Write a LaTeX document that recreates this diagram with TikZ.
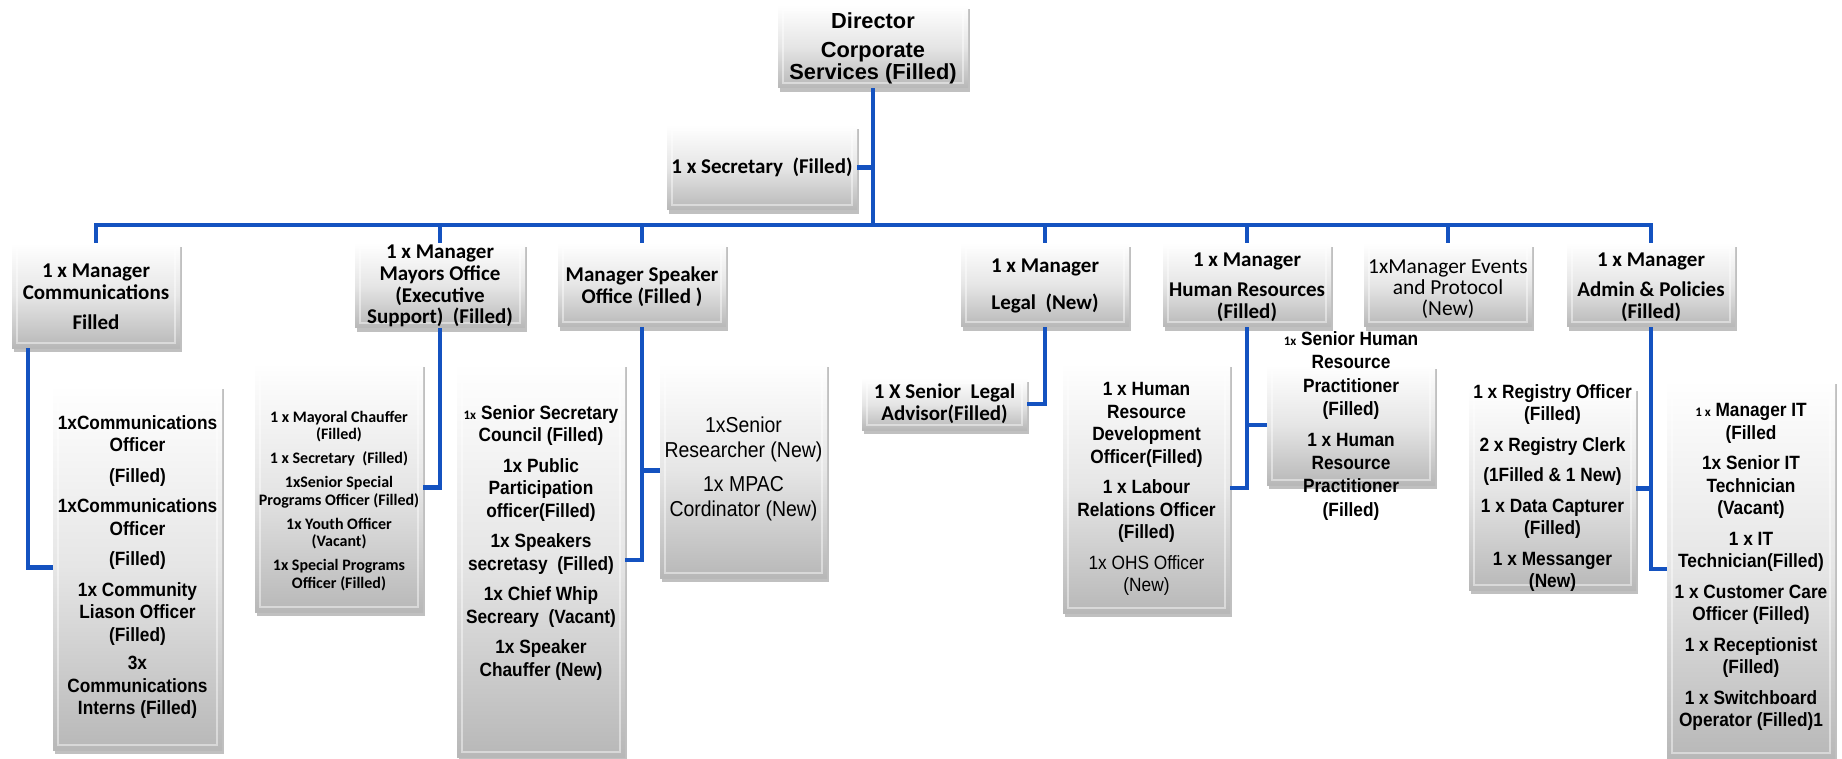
\documentclass[tikz,border=0pt]{standalone}
\usepackage{fontspec}
\setmainfont{Liberation Sans}
\newfontfamily\an[FakeStretch=0.9]{Liberation Sans}
\newfontfamily\carl{Carlito}
\usetikzlibrary{shadows}
\newcommand\setfs[2]{\fontsize{#1}{#2}\selectfont}
\definecolor{linkblue}{RGB}{20,82,192}
\begin{document}
\begin{tikzpicture}[x=0.5pt,y=-0.5pt,
  bx/.style 2 args={minimum width=#1*0.5pt, minimum height=#2*0.5pt, inner sep=0pt, draw=none,
    top color=white, bottom color=black!28, middle color=black!10,
    drop shadow={shadow xshift=0.8pt, shadow yshift=-2pt, opacity=0.35, fill=black!70},
    path picture={\draw[white, line width=1pt, opacity=0.45]
      ([shift={(2.5pt,-2.5pt)}]path picture bounding box.north west) rectangle
      ([shift={(-2.5pt,2.5pt)}]path picture bounding box.south east);}},
  conn/.style={draw=linkblue, line width=2.3pt},
  tx/.style={align=center, inner sep=0pt},
  cb/.style={tx, font=\setfs{10.5}{11.1}\carl\bfseries},
  cr/.style={tx, font=\setfs{10.7}{10.6}\carl},
  ab/.style={tx, font=\setfs{9.6}{11.25}\an\bfseries},
]
\path[fill=white, use as bounding box] (0,0) rectangle (1842,759);

% boxes
\node[bx={190}{83}]  (dir)    at (873,46.5) {};
\node[bx={190}{85}]  (sec)    at (762,167.5) {};
\node[bx={168}{105}] (comm)   at (96,295.5) {};
\node[bx={170}{85}]  (mayor)  at (440,285.5) {};
\node[bx={168}{84}]  (spk)    at (642,285) {};
\node[bx={168}{84}]  (legal)  at (1045,285) {};
\node[bx={168}{84}]  (hr)     at (1247,285) {};
\node[bx={168}{84}]  (events) at (1448,285) {};
\node[bx={168}{84}]  (admin)  at (1651,285) {};
\node[bx={169}{365}] (commc)  at (137.5,567.5) {};
\node[bx={168}{249}] (mayorc) at (339,487.5) {};
\node[bx={168}{394}] (spkc)   at (541,560) {};
\node[bx={167}{215}] (res)    at (743.5,470.5) {};
\node[bx={165}{52}]  (legc)   at (944.5,404) {};
\node[bx={167}{250}] (hrc)    at (1146.5,488) {};
\node[bx={168}{120}] (shr)    at (1351,425) {};
\node[bx={167}{203}] (reg)    at (1552.5,488.5) {};
\node[bx={168}{378}] (it)     at (1751,569) {};

% connectors
\coordinate (busY) at (0,225);
\coordinate (commJ) at (28,0);
\draw[conn] (comm.north) -- (comm.north |- busY) -| (admin.north);
\foreach \n in {mayor,spk,legal,hr,events}
  \draw[conn] (\n.north) -- (\n.north |- busY);
\draw[conn] (dir.south) -- (dir.south |- busY);
\draw[conn] (sec.east) -- (sec.east -| dir.south);
\draw[conn] (commJ |- comm.south) |- (commc.west);
\draw[conn] (mayor.south) |- (mayorc.east);
\draw[conn] (spk.south) |- (spkc.east);
\draw[conn] (spk.south |- res.west) -- (res.west);
\draw[conn] (legal.south) |- (legc.east);
\draw[conn] (hr.south) |- (hrc.east);
\draw[conn] (hr.south |- shr.west) -- (shr.west);
\draw[conn] (admin.south) |- (reg.east);
\draw[conn] (admin.south) |- (it.west);

% texts
\node[tx, font=\setfs{10.9}{11}\bfseries] (dirT) at (873,48) {Director\\[3.5pt]Corporate\\Services (Filled)};
\node[cb] (secT) at (762,167) {1 x Secretary\ \ (Filled)};
\node[cb] (commT) at (96,297) {1 x Manager\\Communications\\[4pt]Filled};
\node[tx, font=\setfs{10.5}{10.85}\carl\bfseries] (mayorT) at (440,286) {1 x Manager\\Mayors Office\\(Executive\\Support)\ \ (Filled)};
\node[cb] (spkT) at (642,287) {Manager Speaker\\Office (Filled )};
\node[cb] (legalT) at (1045,286) {1 x Manager\\[7pt]Legal\ \ (New)};
\node[cb] (hrT) at (1247,287) {1 x Manager\\[4pt]Human Resources\\(Filled)};
\node[cr] (eventsT) at (1448,289) {1xManager Events\\and Protocol\\(New)};
\node[cb] (adminT) at (1651,287) {1 x Manager\\[4pt]Admin \& Policies\\(Filled)};

\node[ab] (commcT) at (137.5,567) {1xCommunications\\Officer\\[4pt](Filled)\\[4pt]1xCommunications\\Officer\\[4pt](Filled)\\[4pt]1x Community\\Liason Officer\\(Filled)\\[3pt]3x\\Communications\\Interns (Filled)};
\node[tx, font=\setfs{8}{8.75}\carl\bfseries] (mayorcT) at (339,501) {1 x Mayoral Chauffer\\(Filled)\\[3.25pt]1 x Secretary\ \ (Filled)\\[3.25pt]1xSenior Special\\Programs Officer (Filled)\\[3.25pt]1x Youth Officer\\(Vacant)\\[3.25pt]1x Special Programs\\Officer (Filled)};
\node[ab] (spkcT) at (541,543) {{\setfs{6.5}{6.5}\carl\bfseries 1x} Senior Secretary\\Council (Filled)\\[4pt]1x Public\\Participation\\officer(Filled)\\[4pt]1x Speakers\\secretasy\ \ (Filled)\\[4pt]1x Chief Whip\\Secreary\ \ (Vacant)\\[4pt]1x Speaker\\Chauffer (New)};
\node[tx, font=\setfs{10.8}{12.5}\an] (resT) at (743.5,469) {1xSenior\\Researcher (New)\\[4.5pt]1x MPAC\\Cordinator (New)};
\node[tx, font=\setfs{10.5}{11}\carl\bfseries] (legcT) at (944.5,404) {1 X Senior\ \ Legal\\Advisor(Filled)};
\node[ab] (hrcT) at (1146.5,489) {1 x Human\\Resource\\Development\\Officer(Filled)\\[4pt]1 x Labour\\Relations Officer\\(Filled)\\[4pt]\mdseries 1x OHS Officer\\\mdseries (New)};
\node[tx, font=\setfs{9.6}{11.6}\an\bfseries] (shrT) at (1351,426) {{\setfs{6.5}{6.5}\carl\bfseries 1x} Senior Human\\Resource\\Practitioner\\(Filled)\\[4pt]1 x Human\\Resource\\Practitioner\\(Filled)};
\node[ab] (regT) at (1552.5,488) {1 x Registry Officer\\(Filled)\\[4pt]2 x Registry Clerk\\[4pt](1Filled \& 1 New)\\[4pt]1 x Data Capturer\\(Filled)\\[4pt]1 x Messanger\\(New)};
\node[ab] (itT) at (1751,567) {{\setfs{6.5}{6.5}\carl\bfseries 1 x} Manager IT\\(Filled\\[4pt]1x Senior IT\\Technician\\(Vacant)\\[4pt]1 x IT\\Technician(Filled)\\[4pt]1 x Customer Care\\Officer (Filled)\\[4pt]1 x Receptionist\\(Filled)\\[4pt]1 x Switchboard\\Operator (Filled)1};
\end{tikzpicture}
\end{document}
